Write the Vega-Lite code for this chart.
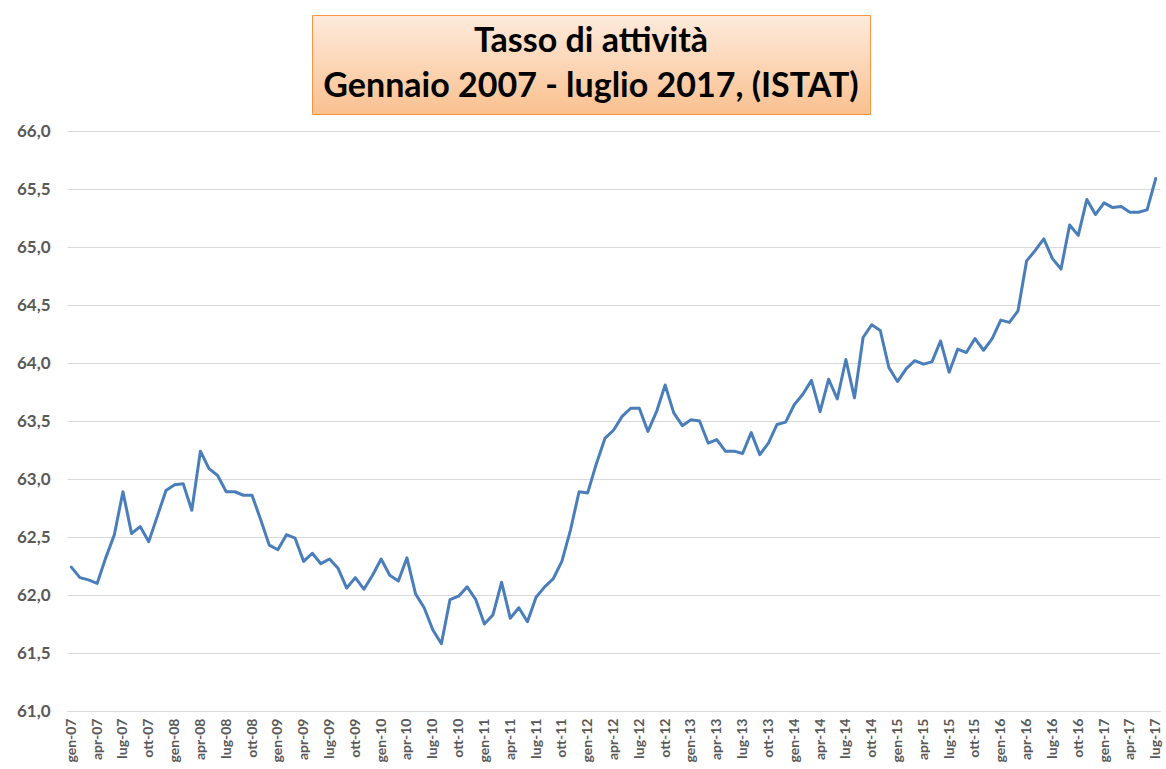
{
  "$schema": "https://vega.github.io/schema/vega-lite/v6.json",
  "background": "white",
  "padding": {"left": 16, "top": 14, "right": 2, "bottom": 2},
  "spacing": 7,
  "config": {"view": {"stroke": null}, "font": "Lato"},
  "vconcat": [
    {
      "spacing": 0,
      "hconcat": [
        {
          "width": 244,
          "height": 99,
          "data": {"values": []},
          "mark": "point"
        },
        {
          "width": 558,
          "height": 99,
          "view": {
            "stroke": "#F79646",
            "strokeWidth": 1,
            "fill": {"gradient": "linear", "x1": 0, "y1": 0, "x2": 0, "y2": 1, "stops": [{"offset": 0, "color": "#FDEBDC"}, {"offset": 1, "color": "#FAC08F"}]}
          },
          "data": {"values": [
            {"riga": 1, "testo": "Tasso di attività"},
            {"riga": 2, "testo": "Gennaio 2007 - luglio 2017, (ISTAT)"}
          ]},
          "mark": {"type": "text", "font": "Lato", "fontWeight": "bold", "fontSize": 34, "color": "#000000", "baseline": "middle", "align": "center"},
          "encoding": {
            "y": {"field": "riga", "type": "ordinal", "axis": null, "scale": {"type": "band", "paddingOuter": 0.1}},
            "text": {"field": "testo"}
          }
        }
      ]
    },
    {
      "width": 1093,
      "height": 580,
      "data": {"values": [
        {"mese": "gen-07", "valore": 62.24}, {"mese": "feb-07", "valore": 62.15}, {"mese": "mar-07", "valore": 62.13}, {"mese": "apr-07", "valore": 62.10},
        {"mese": "mag-07", "valore": 62.32}, {"mese": "giu-07", "valore": 62.52}, {"mese": "lug-07", "valore": 62.89}, {"mese": "ago-07", "valore": 62.53},
        {"mese": "set-07", "valore": 62.59}, {"mese": "ott-07", "valore": 62.46}, {"mese": "nov-07", "valore": 62.68}, {"mese": "dic-07", "valore": 62.90},
        {"mese": "gen-08", "valore": 62.95}, {"mese": "feb-08", "valore": 62.96}, {"mese": "mar-08", "valore": 62.73}, {"mese": "apr-08", "valore": 63.24},
        {"mese": "mag-08", "valore": 63.09}, {"mese": "giu-08", "valore": 63.03}, {"mese": "lug-08", "valore": 62.89}, {"mese": "ago-08", "valore": 62.89},
        {"mese": "set-08", "valore": 62.86}, {"mese": "ott-08", "valore": 62.86}, {"mese": "nov-08", "valore": 62.65}, {"mese": "dic-08", "valore": 62.43},
        {"mese": "gen-09", "valore": 62.39}, {"mese": "feb-09", "valore": 62.52}, {"mese": "mar-09", "valore": 62.49}, {"mese": "apr-09", "valore": 62.29},
        {"mese": "mag-09", "valore": 62.36}, {"mese": "giu-09", "valore": 62.27}, {"mese": "lug-09", "valore": 62.31}, {"mese": "ago-09", "valore": 62.23},
        {"mese": "set-09", "valore": 62.06}, {"mese": "ott-09", "valore": 62.15}, {"mese": "nov-09", "valore": 62.05}, {"mese": "dic-09", "valore": 62.17},
        {"mese": "gen-10", "valore": 62.31}, {"mese": "feb-10", "valore": 62.17}, {"mese": "mar-10", "valore": 62.12}, {"mese": "apr-10", "valore": 62.32},
        {"mese": "mag-10", "valore": 62.01}, {"mese": "giu-10", "valore": 61.89}, {"mese": "lug-10", "valore": 61.70}, {"mese": "ago-10", "valore": 61.58},
        {"mese": "set-10", "valore": 61.96}, {"mese": "ott-10", "valore": 61.99}, {"mese": "nov-10", "valore": 62.07}, {"mese": "dic-10", "valore": 61.96},
        {"mese": "gen-11", "valore": 61.75}, {"mese": "feb-11", "valore": 61.83}, {"mese": "mar-11", "valore": 62.11}, {"mese": "apr-11", "valore": 61.80},
        {"mese": "mag-11", "valore": 61.89}, {"mese": "giu-11", "valore": 61.77}, {"mese": "lug-11", "valore": 61.98}, {"mese": "ago-11", "valore": 62.07},
        {"mese": "set-11", "valore": 62.14}, {"mese": "ott-11", "valore": 62.29}, {"mese": "nov-11", "valore": 62.56}, {"mese": "dic-11", "valore": 62.89},
        {"mese": "gen-12", "valore": 62.88}, {"mese": "feb-12", "valore": 63.13}, {"mese": "mar-12", "valore": 63.35}, {"mese": "apr-12", "valore": 63.42},
        {"mese": "mag-12", "valore": 63.54}, {"mese": "giu-12", "valore": 63.61}, {"mese": "lug-12", "valore": 63.61}, {"mese": "ago-12", "valore": 63.41},
        {"mese": "set-12", "valore": 63.58}, {"mese": "ott-12", "valore": 63.81}, {"mese": "nov-12", "valore": 63.57}, {"mese": "dic-12", "valore": 63.46},
        {"mese": "gen-13", "valore": 63.51}, {"mese": "feb-13", "valore": 63.50}, {"mese": "mar-13", "valore": 63.31}, {"mese": "apr-13", "valore": 63.34},
        {"mese": "mag-13", "valore": 63.24}, {"mese": "giu-13", "valore": 63.24}, {"mese": "lug-13", "valore": 63.22}, {"mese": "ago-13", "valore": 63.40},
        {"mese": "set-13", "valore": 63.21}, {"mese": "ott-13", "valore": 63.31}, {"mese": "nov-13", "valore": 63.47}, {"mese": "dic-13", "valore": 63.49},
        {"mese": "gen-14", "valore": 63.64}, {"mese": "feb-14", "valore": 63.73}, {"mese": "mar-14", "valore": 63.85}, {"mese": "apr-14", "valore": 63.58},
        {"mese": "mag-14", "valore": 63.86}, {"mese": "giu-14", "valore": 63.69}, {"mese": "lug-14", "valore": 64.03}, {"mese": "ago-14", "valore": 63.70},
        {"mese": "set-14", "valore": 64.22}, {"mese": "ott-14", "valore": 64.33}, {"mese": "nov-14", "valore": 64.28}, {"mese": "dic-14", "valore": 63.96},
        {"mese": "gen-15", "valore": 63.84}, {"mese": "feb-15", "valore": 63.95}, {"mese": "mar-15", "valore": 64.02}, {"mese": "apr-15", "valore": 63.99},
        {"mese": "mag-15", "valore": 64.01}, {"mese": "giu-15", "valore": 64.19}, {"mese": "lug-15", "valore": 63.92}, {"mese": "ago-15", "valore": 64.12},
        {"mese": "set-15", "valore": 64.09}, {"mese": "ott-15", "valore": 64.21}, {"mese": "nov-15", "valore": 64.11}, {"mese": "dic-15", "valore": 64.21},
        {"mese": "gen-16", "valore": 64.37}, {"mese": "feb-16", "valore": 64.35}, {"mese": "mar-16", "valore": 64.45}, {"mese": "apr-16", "valore": 64.88},
        {"mese": "mag-16", "valore": 64.97}, {"mese": "giu-16", "valore": 65.07}, {"mese": "lug-16", "valore": 64.90}, {"mese": "ago-16", "valore": 64.81},
        {"mese": "set-16", "valore": 65.19}, {"mese": "ott-16", "valore": 65.10}, {"mese": "nov-16", "valore": 65.41}, {"mese": "dic-16", "valore": 65.28},
        {"mese": "gen-17", "valore": 65.38}, {"mese": "feb-17", "valore": 65.34}, {"mese": "mar-17", "valore": 65.35}, {"mese": "apr-17", "valore": 65.30},
        {"mese": "mag-17", "valore": 65.30}, {"mese": "giu-17", "valore": 65.32}, {"mese": "lug-17", "valore": 65.59}
      ]},
      "mark": {"type": "line", "color": "#4A7EBB", "strokeWidth": 3, "strokeJoin": "round", "strokeCap": "round"},
      "encoding": {
        "x": {
          "field": "mese", "type": "ordinal", "sort": null,
          "scale": {"type": "point", "padding": 0.5},
          "axis": {
            "title": null, "labelAngle": -90, "ticks": false, "grid": false,
            "domain": true, "domainColor": "#D9D9D9", "domainWidth": 1,
            "labelExpr": "test(/^(gen|apr|lug|ott)/, datum.label) ? datum.label : ''",
            "labelOverlap": false, "labelBound": false, "labelPadding": 7,
            "labelFont": "Lato", "labelFontWeight": "bold", "labelFontSize": 14, "labelColor": "#595959"
          }
        },
        "y": {
          "field": "valore", "type": "quantitative",
          "scale": {"domain": [61, 66], "zero": false, "nice": false},
          "axis": {
            "title": null, "values": [61, 61.5, 62, 62.5, 63, 63.5, 64, 64.5, 65, 65.5, 66],
            "ticks": false, "domain": false, "grid": true, "gridColor": "#D9D9D9", "gridWidth": 1,
            "labelExpr": "replace(format(datum.value, '.1f'), '.', ',')",
            "labelFont": "Lato", "labelFontWeight": "bold", "labelFontSize": 17, "labelColor": "#595959", "labelPadding": 17
          }
        }
      }
    }
  ]
}
